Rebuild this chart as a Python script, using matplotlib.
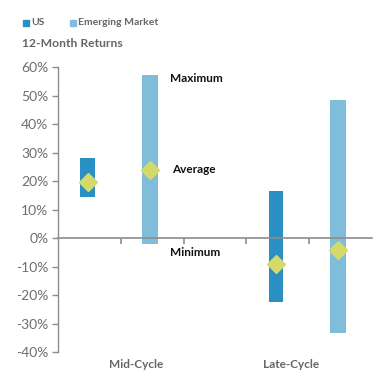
import matplotlib
matplotlib.use("Agg")
import matplotlib.pyplot as plt
from matplotlib.patches import Rectangle

plt.rcParams['font.family'] = ['Lato', 'DejaVu Sans']

categories = ["Mid-Cycle", "Late-Cycle"]
series = ["US", "Emerging Market"]
us_max = [28.3, 16.6]
us_min = [14.6, -22.3]
us_avg = [19.6, -9.0]
em_max = [57.5, 48.7]
em_min = [-2.2, -33.2]
em_avg = [23.9, -4.0]
yticks = [-40, -30, -20, -10, 0, 10, 20, 30, 40, 50, 60]

c_us = "#2A8FC2"
c_em = "#80BDDB"
c_avg = "#D5D967"
gray = "#666666"
axc = "#8C8C8C"

fig = plt.figure(figsize=(3.9, 3.9), dpi=100)
ax = fig.add_axes([58/390, 38/390, 314/390, 284.5/390])
ax.set_ylim(-40, 60)
ax.set_xlim(-0.5, 4.5)

pos_us = [-0.03, 2.97]
pos_em = [0.97, 3.96]
w = 0.23
ax.bar(pos_us, [a - b for a, b in zip(us_max, us_min)], bottom=us_min, width=w, color=c_us, zorder=2)
ax.bar(pos_em, [a - b for a, b in zip(em_max, em_min)], bottom=em_min, width=w + 0.02, color=c_em, zorder=2)
ax.plot(pos_us, us_avg, linestyle="none", marker="D", ms=9.5, color=c_avg, zorder=3)
ax.plot(pos_em, em_avg, linestyle="none", marker="D", ms=9.5, color=c_avg, zorder=3)

for s in ["top", "right"]:
    ax.spines[s].set_visible(False)
ax.spines["bottom"].set_position(("data", 0))
ax.spines["bottom"].set_color(axc)
ax.spines["left"].set_color(axc)
ax.spines["bottom"].set_linewidth(1.2)
ax.spines["left"].set_linewidth(1.0)

ax.set_yticks(yticks)
ax.set_yticklabels([f"{v}%" for v in yticks])
ax.tick_params(axis="y", colors=axc, labelcolor="#6E6E6E", labelsize=10, length=4, width=1, pad=3)
ax.set_xticks([0.5, 1.5, 2.5, 3.5])
ax.set_xticklabels([])
ax.tick_params(axis="x", colors=axc, length=4, width=1.2, direction="out")

# category labels
ax.text(0.75, -44.5, categories[0], ha="center", va="center", fontsize=8.5, fontweight="bold", color=gray)
ax.text(3.21, -44.5, categories[1], ha="center", va="center", fontsize=8.5, fontweight="bold", color=gray)

# annotations
ax.text(1.28, 56.3, "Maximum", ha="left", va="center", fontsize=8.5, fontweight="bold", color="#111111")
ax.text(1.32, 24.3, "Average", ha="left", va="center", fontsize=8.5, fontweight="bold", color="#111111")
ax.text(1.28, -5.0, "Minimum", ha="left", va="center", fontsize=8.5, fontweight="bold", color="#111111")

# legend
fig.patches.append(Rectangle((23/390, 1 - 26/390), 6/390, 6/390, transform=fig.transFigure, color=c_us))
fig.text(31/390, 1 - 22.5/390, series[0], ha="left", va="center", fontsize=7.5, fontweight="bold", color=gray)
fig.patches.append(Rectangle((70/390, 1 - 26/390), 6/390, 6/390, transform=fig.transFigure, color=c_em))
fig.text(78/390, 1 - 22.5/390, series[1], ha="left", va="center", fontsize=7.5, fontweight="bold", color=gray)
fig.text(22/390, 1 - 43.5/390, "12-Month Returns", ha="left", va="center", fontsize=8.7, fontweight="bold", color=gray)

fig.savefig("out.png", dpi=100)
